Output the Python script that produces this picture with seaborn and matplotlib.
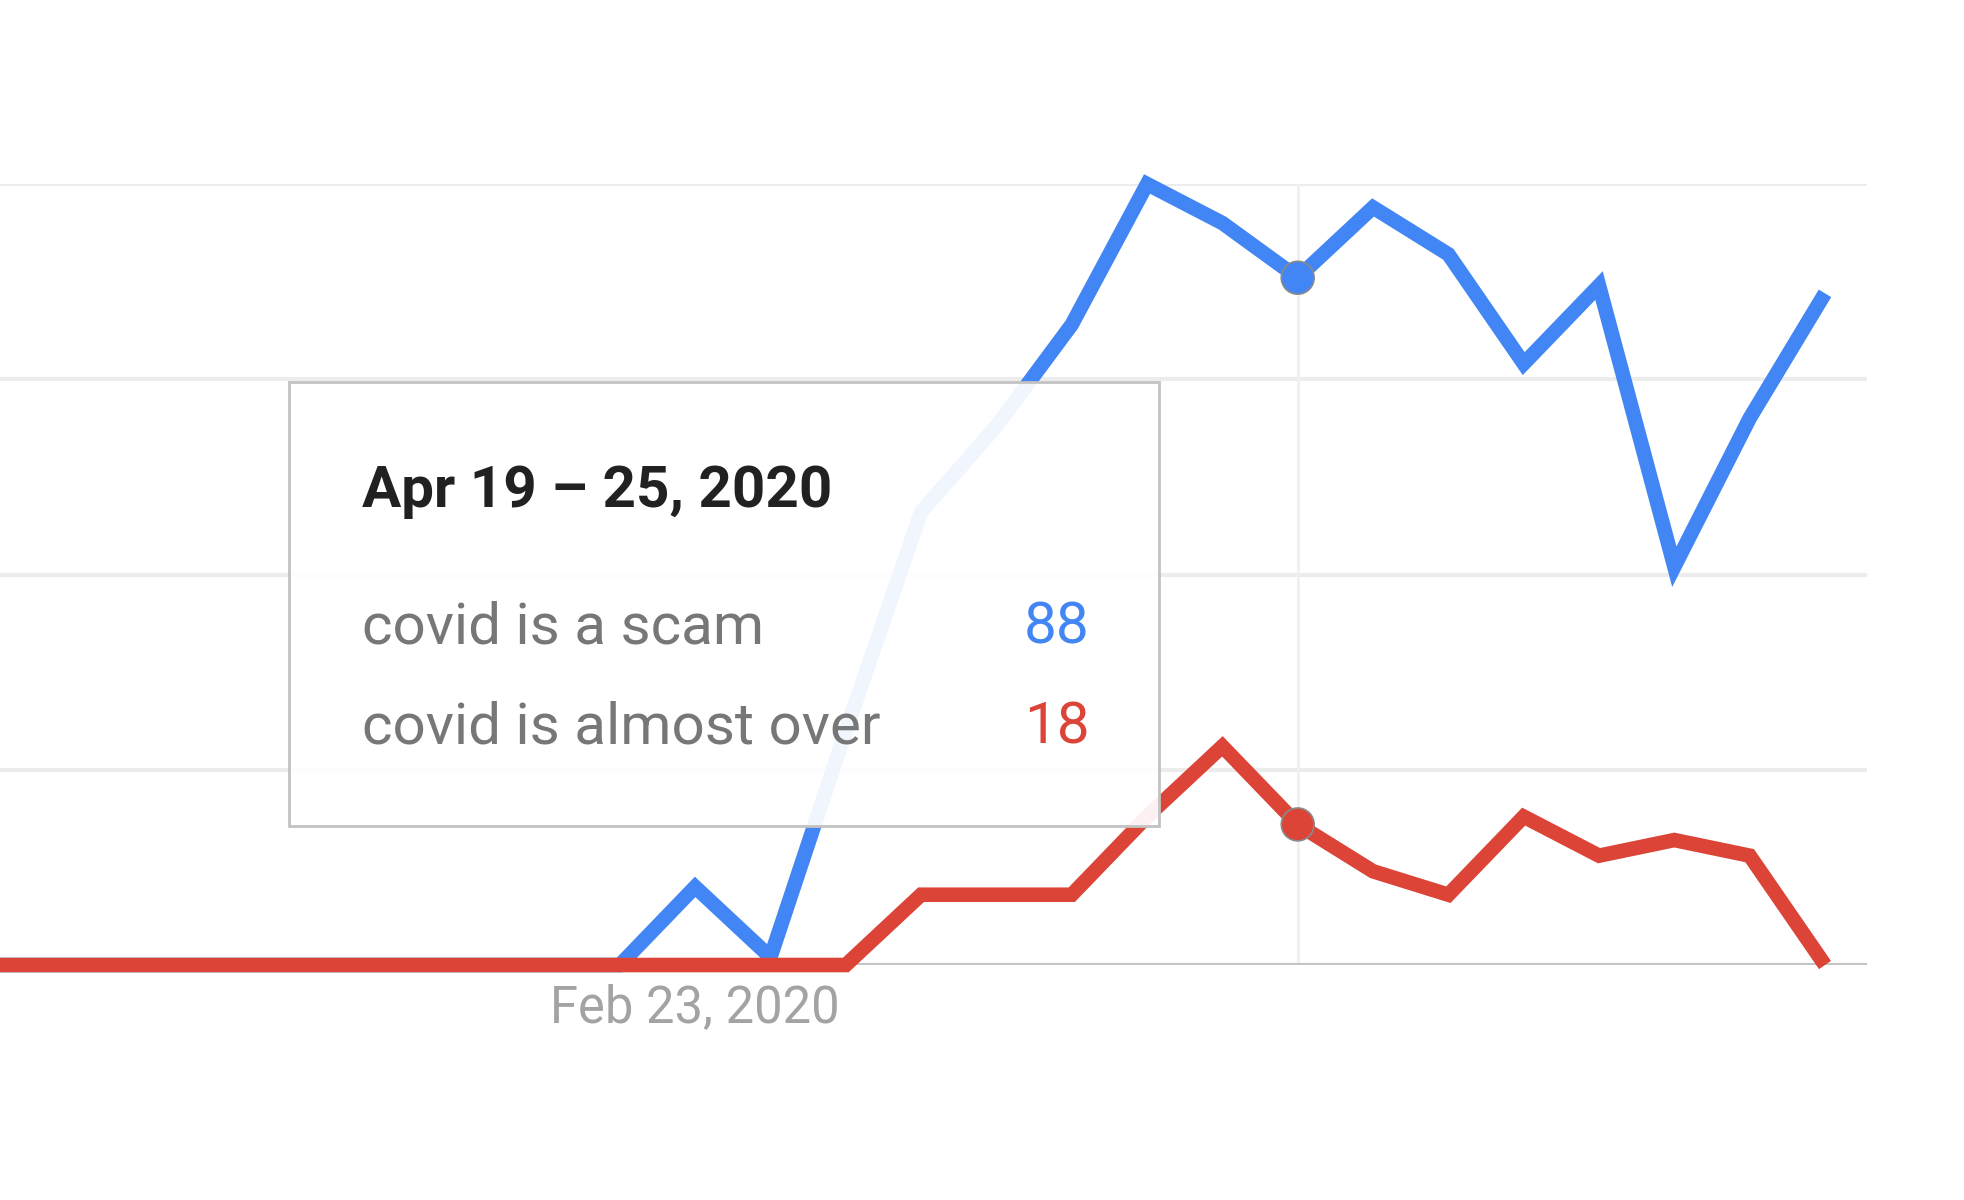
import pandas as pd
import seaborn as sns
import matplotlib.pyplot as plt
from matplotlib.patches import Rectangle

# Weekly Google Trends interest
weeks = ['2019-12-15', '2019-12-22', '2019-12-29', '2020-01-05', '2020-01-12',
         '2020-01-19', '2020-01-26', '2020-02-02', '2020-02-09', '2020-02-16',
         '2020-02-23', '2020-03-01', '2020-03-08', '2020-03-15', '2020-03-22',
         '2020-03-29', '2020-04-05', '2020-04-12', '2020-04-19', '2020-04-26',
         '2020-05-03', '2020-05-10', '2020-05-17', '2020-05-24', '2020-05-31',
         '2020-06-07']
scam = [0, 0, 0, 0, 0, 0, 0, 0, 0, 0,
        10, 1, 30, 58, 69, 82, 100, 95, 88, 97,
        91, 77, 87, 51, 70, 86]
almost_over = [0, 0, 0, 0, 0, 0, 0, 0, 0, 0,
               0, 0, 0, 9, 9, 9, 19, 28, 18, 12,
               9, 19, 14, 16, 14, 0]

terms = ['covid is a scam', 'covid is almost over']
hover_week = '2020-04-19'
hover_values = [88, 18]
tooltip_title = 'Apr 19 \u2013 25, 2020'
tick_week = '2020-02-23'
tick_label = 'Feb 23, 2020'

blue = '#4285f4'
red = '#db4437'

df = pd.DataFrame({'week': pd.to_datetime(weeks), terms[0]: scam, terms[1]: almost_over})
long_df = df.melt(id_vars='week', var_name='term', value_name='interest')

sns.set_style('white')
plt.rcParams['font.family'] = ['Roboto', 'DejaVu Sans']

fig = plt.figure(figsize=(19.65, 12), dpi=100)
ax = fig.add_axes([0, 0.19583, 0.9501, 0.65083])

# gridlines and baseline
for y in [25, 50, 75, 100]:
    ax.axhline(y, color='#ececec', lw=3, zorder=0)
ax.axhline(0, color='#c4c4c4', lw=3, zorder=1)

hover = pd.Timestamp(hover_week)
ax.axvline(hover, ymin=0, ymax=1, color='#f0f0f0', lw=2, zorder=0.5)

sns.lineplot(data=long_df, x='week', y='interest', hue='term', hue_order=terms,
             palette=[blue, red], lw=10.5, legend=False, ax=ax,
             clip_on=False, solid_joinstyle='miter', solid_capstyle='butt', zorder=2)

dots = pd.DataFrame({'week': [hover, hover], 'interest': hover_values, 'term': terms})
sns.scatterplot(data=dots, x='week', y='interest', hue='term', hue_order=terms,
                palette=[blue, red], s=560, edgecolor='#8a8a8a', linewidth=1.2,
                legend=False, ax=ax, zorder=3, clip_on=False)

start = pd.Timestamp(tick_week)
ax.set_xlim(start - pd.Timedelta(days=64.6), start + pd.Timedelta(days=108.9))
ax.set_ylim(0, 100)
ax.set_xticks([start])
ax.set_xticklabels([tick_label], fontsize=36.5, color='#a3a3a3')
ax.tick_params(axis='x', length=0, pad=13)
ax.set_yticks([])
ax.set_xlabel('')
ax.set_ylabel('')
sns.despine(ax=ax, left=True, bottom=True, right=True, top=True)

# hover tooltip
fig.add_artist(Rectangle((289 / 1965, 1 - 826 / 1200), 870 / 1965, 444 / 1200,
                         transform=fig.transFigure, facecolor=(1, 1, 1, 0.93),
                         edgecolor='#c2c2c2', lw=2, zorder=10))
fig.text(362 / 1965, 1 - 507 / 1200, tooltip_title, fontsize=42, fontweight='bold',
         color='#212121', va='baseline', ha='left', zorder=11)
rows_y = [1 - 643 / 1200, 1 - 743 / 1200]
for name, val, col, y in zip(terms, hover_values, [blue, red], rows_y):
    fig.text(362 / 1965, y, name, fontsize=42, color='#777777', va='baseline', ha='left', zorder=11)
    fig.text(1090 / 1965, y, str(val), fontsize=42, color=col, va='baseline', ha='right', zorder=11)

fig.savefig('out.png', dpi=100)
